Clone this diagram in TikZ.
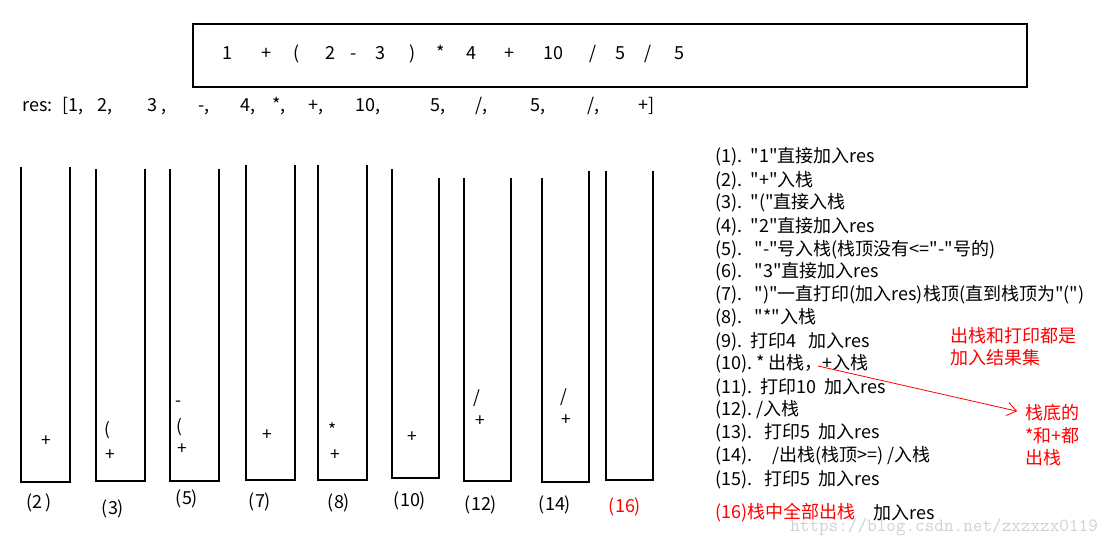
\documentclass[tikz,border=0pt]{standalone}
\usepackage{fontspec}
\newfontfamily\cjk{Noto Sans CJK SC}
\usetikzlibrary{arrows.meta}

\begin{document}
\begin{tikzpicture}[x=0.75pt, y=-0.75pt,
    every node/.style={inner sep=0pt, font=\cjk\fontsize{13.5}{16}\selectfont},
    stack/.style={line width=1pt},
    item/.style={font=\cjk\fontsize{13}{15}\selectfont},
    tok/.style={anchor=base},
    line/.style={anchor=west},
    note/.style={anchor=west, text=red}]
    \useasboundingbox (0,0) rectangle (1114,543);

    % 水印
    \node[anchor=west, text=black!18, font=\ttfamily\fontsize{14}{16}\selectfont] (mark) at (790,527) {https://blog.csdn.net/zxzxzx0119};

    % 表达式
    \node[draw, line width=1.2pt, minimum width=625.5pt, minimum height=47.25pt] (expr) at (610,55.5) {};
    \foreach \x/\t in {227/1, 266/+, 297/(, 330/2, 354/-, 380/3, 413/), 441/*, 471/4, 509/+, 553/10, 593/{/}, 620/5, 648/{/}, 679/5}
        \node[tok] (e\x) at (\x,59) {\t};

    % 结果 res
    \node[anchor=base west] (res) at (22,111) {res:};
    \foreach \x/\t in {62/{[1,}, 97/{2,}, 147/{3 ,}, 198/{-,}, 240/{4,}, 272/{*,}, 308/{+,}, 355/{10,}, 430/{5,}, 475/{/,}, 530/{5,}, 587/{/,}, 638/{+]}}
        \node[anchor=base west] (r\x) at (\x,111) {\t};

    % 栈
    \foreach \l/\tl/\r/\tr/\b in {21/167/70/167/482, 96/169/145/169/481, 170/169/219/169/481, 246/165/295/165/480, 318/165/367/165/480, 392/169/439/178/478, 464/178/511/178/481, 542/178/589/171/482, 606/171/653/171/480}
        \draw[stack] (\l,\tl) -- (\l,\b) -- (\r,\b) -- (\r,\tr);

    % 栈中元素
    \node[item] (s1a) at (46,441) {+};
    \node[item] (s2a) at (110,455) {+};
    \node[item] (s2b) at (107,430) {(};
    \node[item] (s3a) at (182,449) {+};
    \node[item] (s3b) at (179,427) {(};
    \node[item] (s3c) at (179,404) {-};
    \node[item] (s4a) at (267,435) {+};
    \node[item] (s5a) at (335,455) {+};
    \node[item] (s5b) at (333,430) {*};
    \node[item] (s6a) at (412,437) {+};
    \node[item] (s7a) at (480,421) {+};
    \node[item] (s7b) at (477,398) {/};
    \node[item] (s8a) at (566,420) {+};
    \node[item] (s8b) at (564,397) {/};

    % 步骤编号
    \node (l2) at (39,503) {(2\,)};
    \node (l3) at (113,509) {(3)};
    \node (l5) at (187,499) {(5)};
    \node (l7) at (260,502) {(7)};
    \node (l8) at (339,503) {(8)};
    \node (l10) at (410,501) {(10)};
    \node (l12) at (481,505) {(12)};
    \node (l14) at (555,505) {(14)};
    \node[text=red] (l16) at (625,507) {(16)};

    % 步骤说明
    \node[line] (t1) at (715,157) {(1).\ \ "1"直接加入res};
    \node[line] (t2) at (715,181) {(2).\ \ "+"入栈};
    \node[line] (t3) at (715,203) {(3).\ \ "("直接入栈};
    \node[line] (t4) at (715,227) {(4).\ \ "2"直接加入res};
    \node[line] (t5) at (715,250) {(5).\ \ \ "-"号入栈(栈顶没有<="-"号的)};
    \node[line] (t6) at (715,272) {(6).\ \ \ "3"直接加入res};
    \node[line] (t7) at (715,295) {(7).\ \ \ ")"一直打印(加入res)栈顶(直到栈顶为"(")};
    \node[line] (t8) at (715,318) {(8).\ \ \ "*"入栈};
    \node[line] (t9) at (715,342) {(9).\ \ 打印4\ \ \ 加入res};
    \node[line] (t10) at (715,364) {(10).\ * 出栈，+入栈};
    \node[line] (t11) at (715,388) {(11).\ \ 打印10\ \ 加入res};
    \node[line] (t12) at (715,410) {(12).\ /入栈};
    \node[line] (t13) at (715,433) {(13).\ \ \ 打印5\ \ 加入res};
    \node[line] (t14) at (715,456) {(14).\ \ \ \ \ /出栈(栈顶>=)\ /入栈};
    \node[line] (t15) at (715,480) {(15).\ \ \ 打印5\ \ 加入res};
    \node[note] (t16) at (715,513) {(16)栈中全部出栈};
    \node[line] (t16b) at (873,513) {加入res};

    % 红色注释
    \node[note] (n1) at (950,336) {出栈和打印都是};
    \node[note] (n2) at (950,358) {加入结果集};
    \node[note] (n3) at (1025,413) {栈底的};
    \node[note] (n4) at (1025,436) {*和+都};
    \node[note] (n5) at (1025,458) {出栈};

    \coordinate (start) at (818,366);
    \draw[red, line width=0.6pt, -{Straight Barb[length=7pt, width=10pt]}, shorten >=6pt] (start) -- (n3.west);
\end{tikzpicture}
\end{document}
